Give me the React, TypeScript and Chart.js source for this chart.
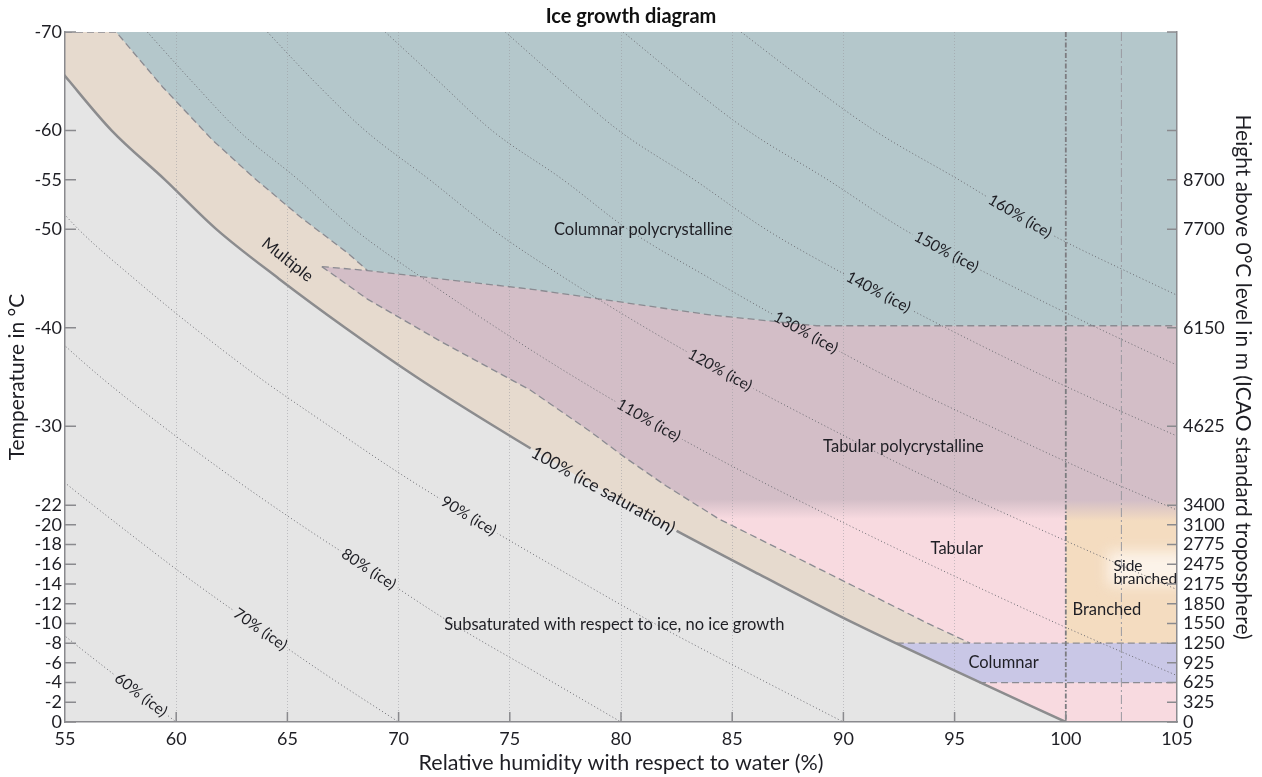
import React, { useEffect, useRef } from "react";
import { Chart, registerables } from "chart.js";

Chart.register(...registerables);

// ---------- data ----------
const TEMPS = [-70, -65, -60, -55, -50, -45, -40, -35, -30, -25, -20, -15, -10, -5, 0];

// relative humidity with respect to water (%) for given RH with respect to ice
const RH_ICE_60 = [32.0, 33.1, 34.3, 35.7, 37.1, 38.8, 40.6, 42.5, 44.6, 46.8, 49.2, 51.7, 54.3, 57.1, 60];
const RH_ICE_70 = [37.4, 38.6, 40.0, 41.7, 43.3, 45.2, 47.3, 49.6, 52.0, 54.6, 57.4, 60.3, 63.4, 66.6, 70];
const RH_ICE_80 = [42.7, 44.2, 45.7, 47.6, 49.4, 51.7, 54.1, 56.6, 59.4, 62.4, 65.6, 69.0, 72.4, 76.2, 80];
const RH_ICE_90 = [48.1, 49.7, 51.4, 53.6, 55.6, 58.1, 60.8, 63.7, 66.9, 70.2, 73.8, 77.6, 81.5, 85.7, 90];
const ICE_SAT_100 = [53.4, 55.2, 57.1, 59.5, 61.8, 64.6, 67.6, 70.8, 74.3, 78.0, 82.0, 86.2, 90.5, 95.2, 100];
const RH_ICE_110 = [58.7, 60.7, 62.8, 65.5, 68.0, 71.1, 74.4, 77.9, 81.7, 85.8, 90.2, 94.8, 99.6, 104.7, 110];
const RH_ICE_120 = [64.1, 66.2, 68.5, 71.4, 74.2, 77.5, 81.1, 85.0, 89.2, 93.6, 98.4, 103.4, 108.6, 114.2, 120];
const RH_ICE_130 = [69.4, 71.8, 74.2, 77.4, 80.3, 84.0, 87.9, 92.0, 96.6, 101.4, 106.6, 112.1, 117.7, 123.8, 130];
const RH_ICE_140 = [74.8, 77.3, 79.9, 83.3, 86.5, 90.4, 94.6, 99.1, 104.0, 109.2, 114.8, 120.7, 126.7, 133.3, 140];
const RH_ICE_150 = [80.1, 82.8, 85.7, 89.3, 92.7, 96.9, 101.4, 106.2, 111.5, 117.0, 123.0, 129.3, 135.8, 142.8, 150];
const RH_ICE_160 = [85.4, 88.3, 91.4, 95.2, 98.9, 103.4, 108.2, 113.3, 118.9, 124.8, 131.2, 137.9, 144.8, 152.3, 160];

// region boundaries as [RH water %, temperature °C]
const COLUMNAR_POLY_EDGE = [[55, -70], [57.3, -70], [59.4, -64.4], [61.65, -59.0], [63.45, -55.3], [65.6, -51.2], [67.7, -47.6], [68.6, -45.8]];
const TABULAR_POLY_TOP = [[66.55, -46.2], [68.6, -45.8], [76, -43.9], [84, -41.3], [88.8, -40.2], [105, -40.2]];
const TABULAR_POLY_LEFT = [[66.55, -46.2], [68.6, -42.9], [71.9, -38.6], [75.9, -33.7], [78.6, -29.5], [80.2, -26.8], [82.0, -24.0], [84.4, -20.6], [89.3, -15.1], [93.8, -10.0], [95.7, -8.0]];
const ICE_SAT_LOW = [[92.4, -8], [94.2, -6], [96.1, -4], [98.0, -2], [100, 0]];
const COLUMNAR_BAND = [[92.4, -8], [105, -8], [105, -4], [96.1, -4], [94.2, -6]];
const BRANCHED_BOX = [[100, -23], [105, -23], [105, -8], [100, -8]];
const SIDE_BRANCHED_BOX = [[101.9, -17.3], [105.5, -13.9]];
const COLUMNAR_TOP_LINE = [[92.4, -8], [105, -8]];
const COLUMNAR_BOTTOM_LINE = [[96.1, -4], [105, -4]];
const WATER_SAT_LINE = [[100, -70], [100, 0]];
const WATER_SUPERSAT_LINE = [[102.5, -70], [102.5, 0]];

// axes
const X_TICKS = [55, 60, 65, 70, 75, 80, 85, 90, 95, 100, 105];
const TEMP_TICKS = [0, -2, -4, -6, -8, -10, -12, -14, -16, -18, -20, -22, -30, -40, -50, -55, -60, -70];
const HEIGHT_TICK_LABELS = ["0", "325", "625", "925", "1250", "1550", "1850", "2175", "2475", "2775", "3100", "3400", "4625", "6150", "7700", "8700", "", ""];

// ---------- styles ----------
const FONT = "Lato";
const TEXT = "#1e1e24";
const C_BG = "#e5e5e5";
const C_MULTI = "#e6dace";
const C_BLUE = "#b4c7cb";
const C_MAUVE = "#d3bec7";
const C_PINK = "#f8dae0";
const C_ORANGE = "#f4dcc0";
const C_LAV = "#c9c7e6";
const C_PATCH = "#fcf3e9";
const DASH_COLOR = "#8b8b92";

const ISO_SIZE = 15.5;
const REGION_SIZE = 16.5;

const ISO_LABELS = [
  { key: "60", series: RH_ICE_60, text: "60% (ice)", T: -2.74, size: ISO_SIZE },
  { key: "70", series: RH_ICE_70, text: "70% (ice)", T: -9.4, size: ISO_SIZE },
  { key: "80", series: RH_ICE_80, text: "80% (ice)", T: -15.5, size: ISO_SIZE },
  { key: "90", series: RH_ICE_90, text: "90% (ice)", T: -20.9, size: ISO_SIZE },
  { key: "100", series: ICE_SAT_100, text: "100% (ice saturation)", T: -23.5, size: 17.5 },
  { key: "110", series: RH_ICE_110, text: "110% (ice)", T: -30.6, size: ISO_SIZE },
  { key: "120", series: RH_ICE_120, text: "120% (ice)", T: -35.7, size: ISO_SIZE },
  { key: "130", series: RH_ICE_130, text: "130% (ice)", T: -39.5, size: ISO_SIZE },
  { key: "140", series: RH_ICE_140, text: "140% (ice)", T: -43.6, size: ISO_SIZE },
  { key: "150", series: RH_ICE_150, text: "150% (ice)", T: -47.7, size: ISO_SIZE },
  { key: "160", series: RH_ICE_160, text: "160% (ice)", T: -51.3, size: ISO_SIZE },
];

const REGION_LABELS = [
  { text: "Columnar polycrystalline", x: 81.0, T: -49.9, size: REGION_SIZE, align: "center" },
  { text: "Tabular polycrystalline", x: 92.7, T: -27.9, size: REGION_SIZE, align: "center" },
  { text: "Tabular", x: 95.1, T: -17.55, size: REGION_SIZE, align: "center" },
  { text: "Columnar", x: 97.2, T: -6.0, size: REGION_SIZE, align: "center" },
  { text: "Branched", x: 100.3, T: -11.4, size: REGION_SIZE, align: "left" },
  { text: "Side", x: 102.15, T: -15.8, size: 15.5, align: "left" },
  { text: "branched", x: 102.15, T: -14.55, size: 15.5, align: "left" },
  { text: "Subsaturated with respect to ice, no ice growth", x: 79.7, T: -9.85, size: REGION_SIZE, align: "center" },
  { text: "Multiple", x: 65.0, T: -46.9, size: REGION_SIZE, align: "center", along: ICE_SAT_100 },
];

const pts = (arr: number[][]) => arr.map(([x, y]) => ({ x, y }));
const seriesPts = (s: number[]) => TEMPS.map((t, i) => ({ x: s[i], y: t }));

function interpX(series: number[], T: number) {
  for (let i = 0; i < TEMPS.length - 1; i++) {
    if (T >= TEMPS[i] && T <= TEMPS[i + 1]) {
      const f = (T - TEMPS[i]) / (TEMPS[i + 1] - TEMPS[i]);
      return series[i] + f * (series[i + 1] - series[i]);
    }
  }
  return series[series.length - 1];
}

function angleAlong(chart: any, series: number[], T: number) {
  const xs = chart.scales.x, ys = chart.scales.y;
  const t1 = Math.max(-70, T - 1.5), t2 = Math.min(0, T + 1.5);
  const x1 = xs.getPixelForValue(interpX(series, t1)), y1 = ys.getPixelForValue(t1);
  const x2 = xs.getPixelForValue(interpX(series, t2)), y2 = ys.getPixelForValue(t2);
  return Math.atan2(y2 - y1, x2 - x1);
}

function isoGeom(chart: any, lab: any) {
  const xs = chart.scales.x, ys = chart.scales.y;
  const ctx = chart.ctx;
  ctx.save();
  ctx.font = `${lab.size}px ${FONT}`;
  const w = ctx.measureText(lab.text).width + 6;
  ctx.restore();
  return {
    cx: xs.getPixelForValue(interpX(lab.series, lab.T)),
    cy: ys.getPixelForValue(lab.T),
    angle: angleAlong(chart, lab.series, lab.T),
    w,
    h: lab.size * 0.95,
  };
}

function vGradient(c1: string, c2: string, t1: number, t2: number) {
  return (context: any) => {
    const chart = context.chart;
    const y = chart.scales && chart.scales.y;
    if (!chart.chartArea || !y) return c2;
    const g = chart.ctx.createLinearGradient(0, y.getPixelForValue(t1), 0, y.getPixelForValue(t2));
    g.addColorStop(0, c1);
    g.addColorStop(1, c2);
    return g;
  };
}

export default function App() {
  const ref = useRef<HTMLCanvasElement | null>(null);

  useEffect(() => {
    const canvas = ref.current;
    if (!canvas) return;

    const poly = (data: any[], bg: any, order: number, extra: any = {}) => ({
      type: "line",
      data,
      fill: "shape",
      backgroundColor: bg,
      borderColor: "transparent",
      borderWidth: 0,
      pointRadius: 0,
      tension: 0,
      order,
      ...extra,
    });
    const dashed = (data: any[], order: number, color = DASH_COLOR, width = 1.3, dash = [7, 4]) => ({
      type: "line",
      data,
      fill: false,
      borderColor: color,
      borderWidth: width,
      borderDash: dash,
      pointRadius: 0,
      tension: 0,
      order,
    });
    const iso = (series: number[], key: string, order: number) => ({
      type: "line",
      data: seriesPts(series),
      fill: false,
      borderColor: "#6c6c72",
      borderWidth: 1,
      borderDash: [1, 2.5],
      pointRadius: 0,
      cubicInterpolationMode: "monotone",
      order,
      knockKey: key,
    });

    const multipleRegion = [...seriesPts(ICE_SAT_100), { x: 105, y: 0 }, { x: 105, y: -70 }];
    const mainRegion = [
      ...pts(TABULAR_POLY_LEFT),
      ...pts(ICE_SAT_LOW),
      { x: 105, y: 0 },
      ...pts([...TABULAR_POLY_TOP].reverse()),
    ];
    const blueRegion = [
      ...pts(COLUMNAR_POLY_EDGE.slice(1)),
      ...pts(TABULAR_POLY_TOP.slice(1)),
      { x: 105, y: -70 },
    ];

    const datasets: any[] = [
      poly(multipleRegion, C_MULTI, 100),
      poly(mainRegion, vGradient(C_MAUVE, C_PINK, -22.6, -20.6), 90),
      poly(pts(BRANCHED_BOX), vGradient(C_MAUVE, C_ORANGE, -22.5, -20.4), 85, { sideBranch: true }),
      poly(pts(COLUMNAR_BAND), C_LAV, 80),
      poly(blueRegion, C_BLUE, 75),
      dashed(pts(COLUMNAR_POLY_EDGE), 60),
      dashed(pts(TABULAR_POLY_TOP), 60),
      dashed(pts(TABULAR_POLY_LEFT), 60),
      dashed(pts(COLUMNAR_TOP_LINE), 60),
      dashed(pts(COLUMNAR_BOTTOM_LINE), 60),
      iso(RH_ICE_60, "60", 50),
      iso(RH_ICE_70, "70", 50),
      iso(RH_ICE_80, "80", 50),
      iso(RH_ICE_90, "90", 50),
      iso(RH_ICE_110, "110", 50),
      iso(RH_ICE_120, "120", 50),
      iso(RH_ICE_130, "130", 50),
      iso(RH_ICE_140, "140", 50),
      iso(RH_ICE_150, "150", 50),
      iso(RH_ICE_160, "160", 50),
      {
        type: "line",
        data: seriesPts(ICE_SAT_100),
        fill: false,
        borderColor: "#8c8c8e",
        borderWidth: 2.5,
        pointRadius: 0,
        cubicInterpolationMode: "monotone",
        order: 45,
        knockKey: "100",
      },
      dashed(pts(WATER_SAT_LINE), 40, "#7c7c80", 1.8, [5, 2, 1.5, 2]),
      dashed(pts(WATER_SUPERSAT_LINE), 40, "#9a9aa0", 1, [9, 3, 2, 3]),
    ];

    const knocked = new Set<number>();

    const annotPlugin = {
      id: "iceAnnotations",
      beforeDraw(chart: any) {
        const a = chart.chartArea;
        const ctx = chart.ctx;
        ctx.save();
        ctx.fillStyle = C_BG;
        ctx.fillRect(a.left, a.top, a.right - a.left, a.bottom - a.top);
        ctx.restore();
      },
      beforeDatasetDraw(chart: any, args: any) {
        const ds = chart.data.datasets[args.index];
        if (!ds.knockKey) return;
        const lab = ISO_LABELS.find((l) => l.key === ds.knockKey);
        if (!lab) return;
        const g = isoGeom(chart, lab);
        const ctx = chart.ctx;
        ctx.save();
        ctx.beginPath();
        ctx.rect(0, 0, chart.width, chart.height);
        const c = Math.cos(g.angle), s = Math.sin(g.angle);
        const hw = g.w / 2, hh = g.h / 2;
        const corners = [[-hw, -hh], [hw, -hh], [hw, hh], [-hw, hh]].map(([u, v]) => [g.cx + u * c - v * s, g.cy + u * s + v * c]);
        ctx.moveTo(corners[0][0], corners[0][1]);
        for (let i = 1; i < 4; i++) ctx.lineTo(corners[i][0], corners[i][1]);
        ctx.closePath();
        ctx.clip("evenodd");
        knocked.add(args.index);
      },
      afterDatasetDraw(chart: any, args: any) {
        if (knocked.has(args.index)) {
          chart.ctx.restore();
          knocked.delete(args.index);
        }
        const ds = chart.data.datasets[args.index];
        if (ds.sideBranch) {
          const a = chart.chartArea;
          const ctx = chart.ctx;
          const xs = chart.scales.x, ys = chart.scales.y;
          const [[x0, t0], [x1, t1]] = SIDE_BRANCHED_BOX;
          const px0 = xs.getPixelForValue(x0), px1 = xs.getPixelForValue(x1);
          const py0 = ys.getPixelForValue(t0), py1 = ys.getPixelForValue(t1);
          ctx.save();
          ctx.beginPath();
          ctx.rect(xs.getPixelForValue(100), a.top, a.right - xs.getPixelForValue(100), a.bottom - a.top);
          ctx.clip();
          ctx.filter = "blur(7px)";
          ctx.fillStyle = C_PATCH;
          ctx.fillRect(px0, py0, px1 - px0, py1 - py0);
          ctx.restore();
        }
      },
      afterDatasetsDraw(chart: any) {
        const ctx = chart.ctx;
        const xs = chart.scales.x, ys = chart.scales.y;
        ctx.save();
        ctx.fillStyle = TEXT;
        ctx.textBaseline = "middle";
        for (const lab of ISO_LABELS) {
          const g = isoGeom(chart, lab);
          ctx.save();
          ctx.translate(g.cx, g.cy);
          ctx.rotate(g.angle);
          ctx.font = `${lab.size}px ${FONT}`;
          ctx.textAlign = "center";
          ctx.fillText(lab.text, 0, 0);
          ctx.restore();
        }
        for (const lab of REGION_LABELS as any[]) {
          const px = xs.getPixelForValue(lab.x), py = ys.getPixelForValue(lab.T);
          ctx.save();
          ctx.translate(px, py);
          if (lab.along) ctx.rotate(angleAlong(chart, lab.along, lab.T));
          ctx.font = `${lab.size}px ${FONT}`;
          ctx.textAlign = lab.align;
          ctx.fillText(lab.text, 0, 0);
          ctx.restore();
        }
        ctx.restore();
      },
      afterDraw(chart: any) {
        const ctx = chart.ctx;
        const a = chart.chartArea;
        const { x, y, y2 } = chart.scales;
        ctx.save();
        ctx.strokeStyle = "#8a8a8e";
        ctx.lineWidth = 1.5;
        ctx.beginPath();
        for (const t of x.ticks) {
          if (t.value === 55 || t.value === 105) continue;
          const p = x.getPixelForValue(t.value);
          ctx.moveTo(p, a.bottom);
          ctx.lineTo(p, a.bottom - 10);
        }
        for (const t of y.ticks) {
          const p = y.getPixelForValue(t.value);
          ctx.moveTo(a.left, p);
          ctx.lineTo(a.left + 11, p);
        }
        for (const t of y2.ticks) {
          const p = y2.getPixelForValue(t.value);
          ctx.moveTo(a.right, p);
          ctx.lineTo(a.right - 10, p);
        }
        ctx.stroke();
        ctx.restore();
      },
    };

    const yTickBuild = (s: any) => {
      s.ticks = TEMP_TICKS.map((v) => ({ value: v }));
    };

    const chart = new Chart(canvas, {
      type: "line",
      data: { datasets },
      options: {
        responsive: false,
        devicePixelRatio: 1,
        animation: false,
        events: [],
        layout: { padding: 0 },
        plugins: {
          legend: { display: false },
          tooltip: { enabled: false },
          title: {
            display: true,
            text: "Ice growth diagram",
            color: "#111",
            font: { family: FONT, size: 20, weight: "bold" },
            padding: { top: 5, bottom: 3 },
          },
        },
        scales: {
          x: {
            type: "linear",
            min: 55,
            max: 105,
            afterBuildTicks: (s: any) => {
              s.ticks = X_TICKS.map((v) => ({ value: v }));
            },
            afterFit: (s: any) => {
              s.height = 55;
            },
            ticks: {
              autoSkip: false,
              maxRotation: 0,
              padding: 6,
              color: TEXT,
              font: { family: FONT, size: 18 },
              callback: (v: any) => String(v),
            },
            grid: {
              drawTicks: false,
              z: 1,
              lineWidth: 1,
              color: (c: any) => {
                const v = c.tick && c.tick.value;
                return v > 55 && v < 100 ? "rgba(150,150,155,0.5)" : "transparent";
              },
            },
            border: { display: true, color: "#8a8a8e", width: 1.5, dash: [1, 2], z: 2 },
            title: {
              display: true,
              text: "Relative humidity with respect to water (%)",
              color: TEXT,
              font: { family: FONT, size: 21.5 },
              padding: { top: 0, bottom: 1.5 },
            },
          },
          y: {
            type: "linear",
            position: "left",
            min: -70,
            max: 0,
            reverse: true,
            afterBuildTicks: yTickBuild,
            afterFit: (s: any) => {
              s.width = 65;
            },
            ticks: {
              autoSkip: false,
              padding: 3,
              color: TEXT,
              font: { family: FONT, size: 18 },
              callback: (v: any) => String(v),
            },
            grid: { drawTicks: false, drawOnChartArea: false },
            border: { display: true, color: "#8a8a8e", width: 1.5, z: 2 },
            title: {
              display: true,
              text: "Temperature in °C",
              color: TEXT,
              font: { family: FONT, size: 21 },
              padding: { top: 4.5, bottom: 0 },
            },
          },
          y2: {
            type: "linear",
            position: "right",
            min: -70,
            max: 0,
            reverse: true,
            afterBuildTicks: yTickBuild,
            afterFit: (s: any) => {
              s.width = 85;
            },
            ticks: {
              autoSkip: false,
              padding: 6,
              color: TEXT,
              font: { family: FONT, size: 18 },
              callback: (_v: any, i: number) => HEIGHT_TICK_LABELS[i] ?? "",
            },
            grid: { drawTicks: false, drawOnChartArea: false },
            border: { display: true, color: "#8a8a8e", width: 1.5, z: 2 },
            title: {
              display: true,
              text: "Height above 0°C level in m (ICAO standard troposphere)",
              color: TEXT,
              font: { family: FONT, size: 21 },
              padding: { top: 6.4, bottom: 0 },
            },
          },
        },
      },
      plugins: [annotPlugin],
    } as any);

    return () => chart.destroy();
  }, []);

  return (
    <div style={{ position: "fixed", left: 0, top: 0, width: 1262, height: 777, background: "#fff" }}>
      <canvas ref={ref} width={1262} height={777} style={{ display: "block", width: "1262px", height: "777px" }} />
    </div>
  );
}
